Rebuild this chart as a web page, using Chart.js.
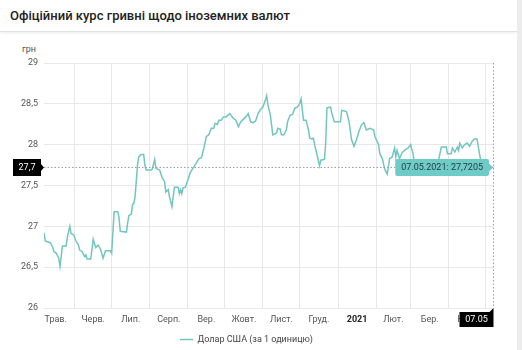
<!DOCTYPE html>
<html lang="uk">
<head>
<meta charset="utf-8">
<script src="https://cdn.jsdelivr.net/npm/chart.js@4.4.1/dist/chart.umd.min.js"></script>
<style>
  html, body { margin: 0; padding: 0; width: 522px; height: 350px; overflow: hidden; background: #ececec; font-family: Roboto, 'Noto Sans', sans-serif; }
  #card { position: absolute; left: 0; top: 0; width: 517px; height: 350px; background: #fff; overflow: hidden; }
  #head { position: absolute; left: 0; top: 0; width: 517px; height: 31px; border-bottom: 1px solid #dde2e2; box-shadow: 0 1px 3px rgba(0,0,0,0.08); }
  #head span { position: absolute; left: 10px; top: 8px; font-size: 13px; font-weight: 500; color: #222; white-space: nowrap; }
  #unit { position: absolute; left: 22px; top: 44px; font-size: 9px; color: #555; }
  canvas { position: absolute; left: 0; top: 32px; }
</style>
</head>
<body>
<div id="card">
  <div id="head"><span>Офіційний курс гривні щодо іноземних валют</span></div>
  <div id="unit">грн</div>
  <canvas id="rateChart" width="517" height="330"></canvas>
</div>
<script>
// days counted from 07.05.2020
const startDate = Date.UTC(2020, 4, 7);
const days = [
  0, 1, 5, 7, 8, 10, 12, 13, 15, 18,
  19, 21, 22, 24, 26, 28, 29, 31, 33, 34,
  35, 38, 40, 42, 44, 46, 48, 50, 54, 55,
  57, 60, 61, 62, 67, 68, 69, 71, 72, 73,
  74, 75, 76, 77, 79, 81, 82, 83, 87, 88,
  90, 91, 94, 96, 98, 99, 101, 102, 104, 106,
  109, 110, 111, 112, 113, 115, 117, 119, 121, 124,
  126, 128, 130, 132, 134, 136, 138, 139, 141, 142,
  144, 146, 148, 151, 154, 156, 158, 160, 162, 164,
  166, 168, 170, 172, 174, 176, 178, 180, 181, 182,
  184, 185, 186, 189, 190, 192, 193, 195, 197, 198,
  200, 202, 204, 206, 208, 209, 210, 211, 213, 215,
  216, 218, 219, 220, 222, 224, 225, 228, 229, 230,
  233, 234, 236, 241, 242, 245, 246, 248, 250, 252,
  254, 256, 258, 260, 262, 265, 268, 269, 272, 273,
  275, 277, 279, 281, 283, 285, 286, 287, 289, 291,
  293, 296, 298, 300, 301, 304, 308, 312, 316, 319,
  321, 323, 327, 328, 331, 332, 334, 336, 337, 338,
  340, 342, 344, 346, 348, 350, 352, 354, 355, 357,
  360, 363, 365
];
const rates = [
  26.92, 26.82, 26.80, 26.75, 26.69, 26.67, 26.61, 26.51, 26.76, 26.76,
  26.87, 27.00, 26.91, 26.90, 26.82, 26.77, 26.71, 26.69, 26.63, 26.65,
  26.60, 26.60, 26.84, 26.74, 26.77, 26.72, 26.61, 26.70, 26.70, 26.67,
  27.18, 27.18, 27.10, 26.94, 26.93, 27.04, 27.13, 27.15, 27.27, 27.28,
  27.36, 27.55, 27.75, 27.85, 27.88, 27.88, 27.75, 27.69, 27.69, 27.70,
  27.82, 27.71, 27.69, 27.60, 27.55, 27.42, 27.45, 27.36, 27.24, 27.48,
  27.48, 27.40, 27.45, 27.40, 27.47, 27.48, 27.57, 27.66, 27.71, 27.78,
  27.83, 27.84, 27.96, 28.10, 28.12, 28.20, 28.20, 28.26, 28.25, 28.30,
  28.30, 28.34, 28.34, 28.38, 28.32, 28.30, 28.22, 28.28, 28.31, 28.34,
  28.38, 28.28, 28.27, 28.29, 28.38, 28.43, 28.46, 28.55, 28.60, 28.49,
  28.36, 28.24, 28.12, 28.14, 28.20, 28.19, 28.12, 28.12, 28.18, 28.28,
  28.36, 28.37, 28.45, 28.46, 28.51, 28.56, 28.42, 28.30, 28.30, 28.18,
  28.08, 28.07, 28.08, 28.00, 27.87, 27.74, 27.81, 27.82, 28.02, 28.45,
  28.46, 28.38, 28.28, 28.28, 28.42, 28.41, 28.40, 28.28, 28.06, 27.98,
  28.06, 28.16, 28.24, 28.27, 28.18, 28.20, 28.18, 28.10, 28.00, 27.89,
  27.83, 27.70, 27.64, 27.83, 27.85, 27.96, 27.85, 27.93, 27.83, 27.90,
  27.93, 27.96, 28.00, 27.89, 27.77, 27.74, 27.72, 27.76, 27.74, 27.72,
  27.83, 27.97, 27.97, 27.89, 27.89, 27.96, 27.91, 27.97, 27.93, 28.02,
  27.96, 28.00, 28.02, 27.98, 28.04, 28.07, 28.07, 27.89, 27.81, 27.74,
  27.72, 27.73, 27.7205
];
const monthLabels = ['Трав.', 'Черв.', 'Лип.', 'Серп.', 'Вер.', 'Жовт.', 'Лист.', 'Груд.', '2021', 'Лют.', 'Бер.', 'Квіт.'];
// first day of each month, same day count (01.05.2020 ... 01.05.2021)
const monthStarts = [-6, 25, 55, 86, 117, 147, 178, 208, 239, 270, 298, 329, 359];
const yTicks = [26, 26.5, 27, 27.5, 28, 28.5, 29];
const seriesName = 'Долар США (за 1 одиницю)';

const lineColor = '#72c6c1';
const gridColor = '#e8e8e8';
const fontFamily = "Roboto, 'Noto Sans', sans-serif";
const smallSize = 9;

const monthMids = monthLabels.map((_, i) => (monthStarts[i] + monthStarts[i + 1]) / 2);
const last = days.length - 1;

function fmtNum(v, d) { return v.toFixed(d).replace('.', ','); }
function fmtDate(dayNum, withYear) {
    const dt = new Date(startDate + dayNum * 86400000);
    const dd = String(dt.getUTCDate()).padStart(2, '0');
    const mm = String(dt.getUTCMonth() + 1).padStart(2, '0');
    return withYear ? `${dd}.${mm}.${dt.getUTCFullYear()}` : `${dd}.${mm}`;
}

// ---- cursor lines + black axis labels for the last point ----
const cursorPlugin = {
    id: 'cursor',
    afterDatasetsDraw(chart) {
        const { ctx, chartArea: a, scales } = chart;
        const px = Math.round(scales.x.getPixelForValue(days[last])) + 0.5;
        const py = Math.round(scales.y.getPixelForValue(rates[last])) + 0.5;
        ctx.save();
        ctx.strokeStyle = '#9c9c9c';
        ctx.lineWidth = 1;
        ctx.setLineDash([1.5, 2]);
        ctx.beginPath();
        ctx.moveTo(a.left, py); ctx.lineTo(px, py);
        ctx.moveTo(px, a.top); ctx.lineTo(px, a.bottom);
        ctx.stroke();
        ctx.setLineDash([]);

        ctx.fillStyle = '#000';
        ctx.font = `${smallSize}px ${fontFamily}`;
        ctx.textAlign = 'center';
        ctx.textBaseline = 'middle';

        // y label
        const yl = a.left - 31, yr = a.left - 3;
        ctx.beginPath();
        ctx.rect(yl, py - 8.5, yr - yl, 17);
        ctx.moveTo(yr, py - 3.5); ctx.lineTo(a.left, py); ctx.lineTo(yr, py + 3.5);
        ctx.fill();
        ctx.fillStyle = '#fff';
        ctx.fillText(fmtNum(rates[last], 1), (yl + yr) / 2, py + 0.5);

        // x label
        const xt = a.bottom + 4;
        ctx.fillStyle = '#000';
        ctx.beginPath();
        ctx.rect(px - 34, xt, 34, 15);
        ctx.moveTo(px - 4, xt); ctx.lineTo(px, xt - 4); ctx.lineTo(px, xt);
        ctx.fill();
        ctx.fillStyle = '#fff';
        ctx.fillText(fmtDate(days[last], false), px - 17, xt + 8);
        ctx.restore();
    }
};

const chart = new Chart(document.getElementById('rateChart'), {
    type: 'line',
    data: {
        datasets: [{
            label: seriesName,
            data: days.map((d, i) => ({ x: d, y: rates[i] })),
            borderColor: lineColor,
            backgroundColor: lineColor,
            borderWidth: 1.5,
            pointRadius: 0,
            pointHoverRadius: 0,
            tension: 0,
            fill: false
        }]
    },
    options: {
        responsive: false,
        animation: false,
        events: [],
        layout: { padding: { top: 31, right: 24, bottom: 8, left: 0 } },
        scales: {
            x: {
                type: 'linear',
                min: 0,
                max: 365,
                afterBuildTicks: (axis) => { axis.ticks = monthMids.map(v => ({ value: v })); },
                afterFit: (axis) => { axis.height = 18; },
                grid: { display: false, drawTicks: false },
                border: { display: false },
                ticks: {
                    autoSkip: false,
                    maxRotation: 0,
                    padding: 6,
                    callback: (v, i) => monthLabels[i],
                    color: (ctx) => ctx.tick && ctx.tick.label === '2021' ? '#222' : '#555',
                    font: (ctx) => ({ family: fontFamily, size: smallSize, weight: ctx.tick && ctx.tick.label === '2021' ? 'bold' : 'normal' })
                }
            },
            xg: {
                type: 'linear',
                position: 'bottom',
                min: 0,
                max: 365,
                afterBuildTicks: (axis) => {
                    axis.ticks = monthStarts.filter(v => v > 0 && v < 365).map(v => ({ value: v }));
                },
                afterFit: (axis) => { axis.height = 0; },
                grid: { color: gridColor, drawTicks: false },
                border: { display: false },
                ticks: { display: false }
            },
            y: {
                min: 26,
                max: 29,
                afterBuildTicks: (axis) => { axis.ticks = yTicks.map(v => ({ value: v })); },
                afterFit: (axis) => { axis.width = 44; },
                grid: { color: gridColor, drawTicks: false },
                border: { display: false },
                ticks: {
                    padding: 6,
                    color: '#555',
                    font: { family: fontFamily, size: smallSize },
                    callback: (v) => String(v).replace('.', ',')
                }
            }
        },
        plugins: {
            legend: {
                position: 'bottom',
                labels: {
                    usePointStyle: true,
                    pointStyle: 'line',
                    pointStyleWidth: 13,
                    padding: 9,
                    color: '#444',
                    font: { family: fontFamily, size: smallSize }
                }
            },
            tooltip: {
                enabled: true,
                backgroundColor: '#6fcbc6',
                bodyColor: '#1f3a44',
                bodyFont: { family: fontFamily, size: smallSize },
                displayColors: false,
                xAlign: 'right',
                yAlign: 'center',
                caretSize: 4,
                caretPadding: 0,
                cornerRadius: 2,
                padding: { left: 6, right: 6, top: 3, bottom: 3 },
                callbacks: {
                    title: () => '',
                    label: (ctx) => `${fmtDate(days[ctx.dataIndex], true)}: ${fmtNum(rates[ctx.dataIndex], 4)}`
                }
            }
        }
    },
    plugins: [cursorPlugin]
});

const lastPt = chart.getDatasetMeta(0).data[last];
chart.tooltip.setActiveElements([{ datasetIndex: 0, index: last }], { x: lastPt.x, y: lastPt.y });
chart.update();
</script>
</body>
</html>
